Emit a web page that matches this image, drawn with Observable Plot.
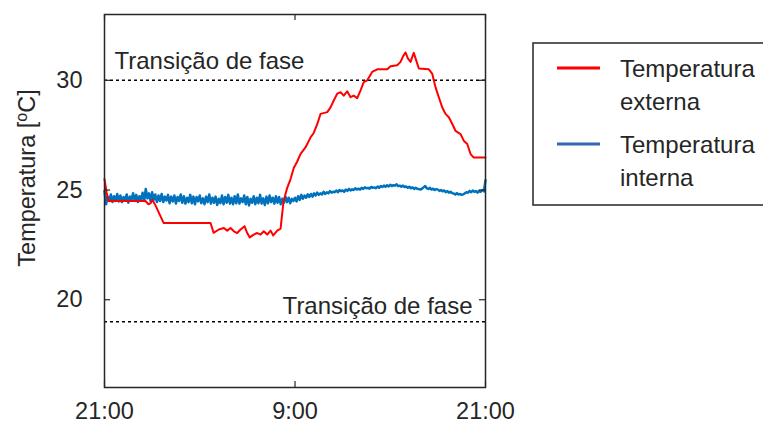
<!DOCTYPE html>
<html><head><meta charset="utf-8">
<script src="https://cdn.jsdelivr.net/npm/d3@7"></script>
<script src="https://cdn.jsdelivr.net/npm/@observablehq/plot@0.6"></script>
<style>
body{margin:0;background:#fff;}
#chart{position:relative;width:763px;height:423px;overflow:hidden;}
</style></head><body><div id="chart"></div>
<script>
// Tick definitions
const xTickHours = [0, 12, 24];
const xTickLabels = ["21:00", "9:00", "21:00"];
const yTicks = [20, 25, 30];

// Phase-transition reference levels
const phaseLevels = [30, 19];
const phaseLabel = "Transição de fase";

// Series names
const seriesNames = ["Temperatura externa", "Temperatura interna"];

// External temperature (hours since 21:00, °C)
const extHours = [0, 0.13, 0.25, 2.58, 2.77, 2.9, 3.02, 3.21, 3.72, 6.68, 6.87, 7.2, 7.52, 7.73, 7.94, 8.15, 8.36, 8.57, 8.82, 8.99, 9.15, 9.4, 9.62, 9.83, 10.03, 10.25, 10.46, 10.63, 10.88, 11.09, 11.28, 11.51, 11.72, 11.92, 12.14, 12.35, 12.66, 12.98, 13.18, 13.4, 13.61, 14.03, 14.24, 14.44, 14.66, 14.87, 15.07, 15.29, 15.5, 15.7, 15.92, 16.13, 16.33, 16.55, 16.86, 17.18, 17.81, 18.02, 18.44, 18.65, 18.79, 18.96, 19.11, 19.28, 19.48, 19.63, 19.8, 20.43, 20.64, 20.85, 21.06, 21.27, 21.48, 21.69, 21.91, 22.11, 22.43, 22.63, 22.85, 23.06, 23.26, 24];
const extTemps = [25.5, 24.9, 24.5, 24.5, 24.35, 24.4, 24.55, 24.3, 23.5, 23.5, 23.05, 23.2, 23.27, 23.15, 23.27, 23.12, 23.04, 23.2, 23.35, 23.04, 22.84, 22.97, 23.04, 22.97, 23.12, 22.97, 23.15, 22.93, 23.15, 23.24, 24.5, 25.1, 25.5, 26.0, 26.3, 26.65, 26.94, 27.4, 27.6, 28.0, 28.47, 28.55, 28.77, 29.08, 29.39, 29.46, 29.3, 29.5, 29.23, 29.3, 29.19, 29.54, 29.92, 30.0, 30.38, 30.5, 30.5, 30.64, 30.69, 30.84, 31.07, 31.27, 31.0, 30.84, 31.25, 30.92, 30.54, 30.5, 30.31, 29.69, 29.23, 28.77, 28.47, 28.32, 28.01, 27.7, 27.55, 27.25, 27.1, 26.64, 26.48, 26.48];

// Internal temperature, sampled every 0.1 h from 21:00
const intStart = 0;
const intStep = 0.1;
const intTemps = [
  24.95, 24.35, 24.7, 24.5, 24.8, 24.45, 24.72, 24.5, 24.82, 24.48,
  24.75, 24.45, 24.68, 24.52, 24.8, 24.42, 24.7, 24.55, 24.85, 24.5,
  24.78, 24.45, 24.72, 24.55, 24.88, 24.5, 25.05, 24.62, 24.85, 24.5,
  24.9, 24.55, 24.8, 24.45, 24.75, 24.5, 24.82, 24.45, 24.7, 24.52,
  24.78, 24.4, 24.7, 24.48, 24.75, 24.38, 24.68, 24.5, 24.8, 24.42,
  24.72, 24.38, 24.65, 24.45, 24.78, 24.4, 24.7, 24.35, 24.68, 24.48,
  24.75, 24.4, 24.62, 24.35, 24.7, 24.45, 24.8, 24.38, 24.65, 24.42,
  24.7, 24.32, 24.6, 24.4, 24.75, 24.35, 24.68, 24.42, 24.78, 24.38,
  24.65, 24.35, 24.72, 24.4, 24.8, 24.38, 24.62, 24.45, 24.75, 24.35,
  24.68, 24.3, 24.6, 24.42, 24.72, 24.35, 24.65, 24.4, 24.78, 24.38,
  24.62, 24.32, 24.7, 24.4, 24.75, 24.45, 24.65, 24.38, 24.72, 24.42,
  24.68, 24.35, 24.6, 24.42, 24.7, 24.45, 24.65, 24.4, 24.6, 24.5,
  24.65, 24.48, 24.72, 24.55, 24.78, 24.6, 24.75, 24.65, 24.8, 24.68,
  24.82, 24.7, 24.85, 24.75, 24.88, 24.78, 24.85, 24.8, 24.92, 24.82,
  24.9, 24.85, 24.95, 24.88, 24.92, 24.9, 24.98, 24.9, 25.0, 24.95,
  24.98, 24.92, 25.02, 24.96, 25.05, 24.98, 25.03, 25.0, 25.08, 25.02,
  25.06, 25.02, 25.1, 25.05, 25.12, 25.08, 25.1, 25.06, 25.14, 25.1,
  25.12, 25.08, 25.16, 25.1, 25.18, 25.14, 25.2, 25.15, 25.22, 25.16,
  25.24, 25.18, 25.22, 25.2, 25.26, 25.18, 25.2, 25.15, 25.2, 25.14,
  25.16, 25.1, 25.15, 25.08, 25.12, 25.05, 25.1, 25.06, 25.04, 25.02,
  25.06, 25.12, 25.18, 25.08, 25.05, 25.1, 25.02, 25.06, 25.0, 25.04,
  25.02, 24.96, 25.0, 24.94, 24.98, 24.9, 24.95, 24.88, 24.92, 24.86,
  24.84, 24.8, 24.86, 24.8, 24.82, 24.78, 24.8, 24.85, 24.9, 24.88,
  24.96, 24.9, 24.98, 24.92, 24.95, 24.88, 24.96, 24.92, 25.0, 24.94,
  25.45
];

const ext = extHours.map((h, i) => ({h, t: extTemps[i]}));
const int = intTemps.map((t, i) => ({h: intStart + i * intStep, t}));

const W = 763, H = 423, mL = 104, mR = 278, mT = 14, mB = 36;
const innerW = W - mL - mR, innerH = H - mT - mB;
const axisColor = "#262626";
const font = "'Liberation Sans', Arial, Helvetica, sans-serif";
const fs = 24;

const plot = Plot.plot({
  width: W, height: H,
  marginLeft: mL, marginRight: mR, marginTop: mT, marginBottom: mB,
  style: {fontFamily: font, fontSize: fs + "px", color: axisColor, background: "white"},
  x: {domain: [0, 24], label: null},
  y: {domain: [16, 33], label: null},
  marks: [
    Plot.ruleY(phaseLevels, {y: d => d, stroke: "black", strokeWidth: 1.6, strokeDasharray: "3,3"}),
    Plot.line(int, {x: "h", y: "t", stroke: "#0072bd", strokeWidth: 2.5}),
    Plot.line(ext, {x: "h", y: "t", stroke: "#ff0000", strokeWidth: 2}),
    Plot.text([phaseLevels[0]], {y: d => d, frameAnchor: "left", dx: 10, dy: -11, textAnchor: "start", lineAnchor: "bottom", text: () => phaseLabel, fill: axisColor, fontSize: fs}),
    Plot.text([phaseLevels[1]], {y: d => d, frameAnchor: "right", dx: -13, dy: -8, textAnchor: "end", lineAnchor: "bottom", text: () => phaseLabel, fill: axisColor, fontSize: fs}),
    Plot.frame({stroke: axisColor, strokeWidth: 1.5}),
    Plot.tickY(yTicks, {y: d => d, stroke: axisColor, strokeWidth: 1.2, insetRight: innerW - 6}),
    Plot.tickY(yTicks, {y: d => d, stroke: axisColor, strokeWidth: 1.2, insetLeft: innerW - 6}),
    Plot.tickX(xTickHours, {x: d => d, stroke: axisColor, strokeWidth: 1.2, insetTop: innerH - 6}),
    Plot.tickX(xTickHours, {x: d => d, stroke: axisColor, strokeWidth: 1.2, insetBottom: innerH - 6}),
    Plot.axisY(yTicks, {tickSize: 0, tickPadding: 22, fontSize: 23.5, fill: axisColor}),
    Plot.axisX(xTickHours, {tickSize: 0, tickPadding: 15, fontSize: 23.5, fill: axisColor, tickFormat: d => xTickLabels[xTickHours.indexOf(d)]})
  ]
});
document.getElementById("chart").appendChild(plot);

const svg = d3.select(plot);
// Y axis title with superscript o
const yl = svg.append("text")
  .attr("transform", "translate(35,178) rotate(-90)")
  .attr("text-anchor", "middle")
  .attr("font-family", font).attr("font-size", 23.5).attr("fill", axisColor);
yl.append("tspan").text("Temperatura [");
yl.append("tspan").attr("font-size", 16).attr("dy", -8).text("o");
yl.append("tspan").attr("dy", 8).text("C]");

// Legend
const lg = svg.append("g");
lg.append("rect").attr("x", 533).attr("y", 43).attr("width", 320).attr("height", 162)
  .attr("fill", "white").attr("stroke", axisColor).attr("stroke-width", 1.5);
const legendColors = ["#ff0000", "#3566b0"];
const legendY = [68, 144];
seriesNames.forEach((name, i) => {
  lg.append("line").attr("x1", 557).attr("x2", 600).attr("y1", legendY[i]).attr("y2", legendY[i])
    .attr("stroke", legendColors[i]).attr("stroke-width", 3);
  name.split(" ").forEach((w, j) => {
    lg.append("text").attr("x", 620).attr("y", legendY[i] + 9 + j * 33)
      .attr("text-anchor", "start")
      .attr("font-family", font).attr("font-size", fs).attr("fill", axisColor).text(w);
  });
});
</script>
</body></html>
